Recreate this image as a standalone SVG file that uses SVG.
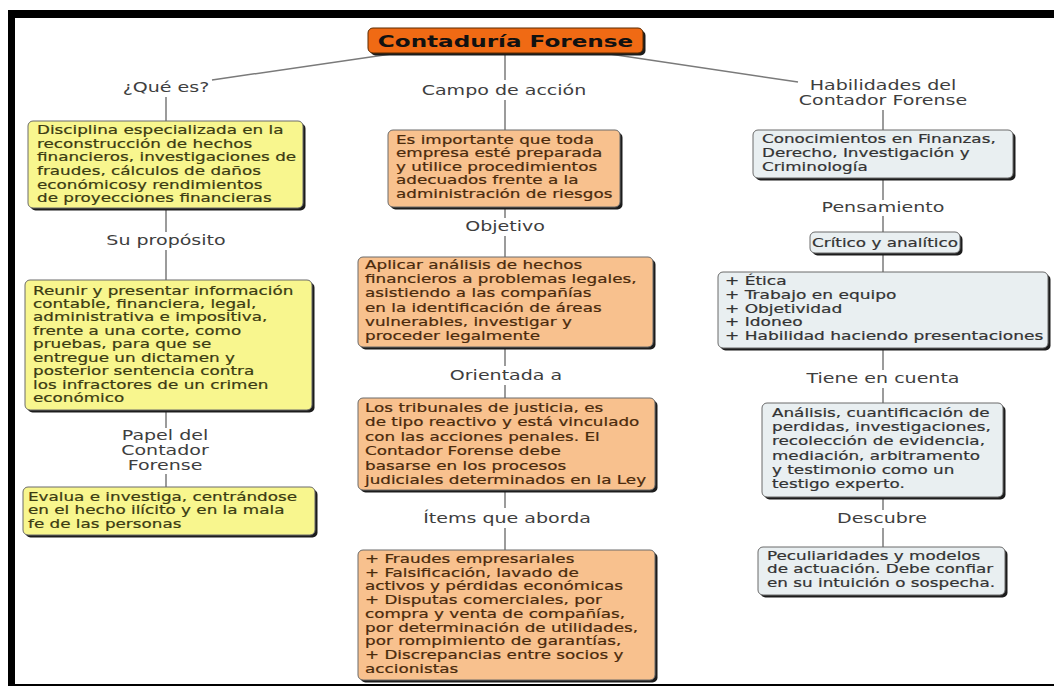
<svg xmlns="http://www.w3.org/2000/svg" width="1054" height="686" viewBox="0 0 1054 686">
  <style>
    .frame { fill: #000; }
    .shadow { fill: #1c1c1c; }
    .box { stroke: #6a6a6a; stroke-width: 1; }
    .yellow { fill: #F8F68E; }
    .peach { fill: #F8C18E; }
    .grey { fill: #E9EFF1; }
    .root { fill: #F06A14; stroke: #5a2a00; stroke-width: 1; }
    .body { font-family: "DejaVu Sans", Verdana, sans-serif; font-size: 12px; stroke-width: 0.2px; }
    .ty { fill: #3b3b12; stroke: #3b3b12; }
    .tp { fill: #4a2a0c; stroke: #4a2a0c; }
    .tg { fill: #333; stroke: #333; }
    .label { font-family: "DejaVu Sans", Verdana, sans-serif; font-size: 13.6px; fill: #3e3e3e; text-anchor: middle; }
    .title { font-family: "DejaVu Sans", Verdana, sans-serif; font-size: 16.5px; font-weight: bold; fill: #111; text-anchor: middle; }
    .link { stroke: #7a7a7a; stroke-width: 1.5; fill: none; }
  </style>

  <rect width="1054" height="686" fill="#fff"/>

  <!-- frame -->
  <rect class="frame" x="8" y="10" width="1046" height="8"/>
  <rect class="frame" x="8" y="10" width="7" height="676"/>
  <rect class="frame" x="8" y="684" width="1046" height="2"/>

  <!-- connectors -->
  <g id="connectors" class="link">
    <line x1="398" y1="53" x2="212" y2="80"/>
    <line x1="505" y1="53" x2="505" y2="80"/>
    <line x1="603" y1="53" x2="798" y2="82"/>

    <line x1="166" y1="97" x2="166" y2="121"/>
    <line x1="166" y1="208" x2="166" y2="232"/>
    <line x1="166" y1="250" x2="166" y2="280"/>
    <line x1="166" y1="410" x2="166" y2="428"/>
    <line x1="166" y1="474" x2="166" y2="487"/>

    <line x1="505" y1="100" x2="505" y2="130"/>
    <line x1="505" y1="207" x2="505" y2="218"/>
    <line x1="505" y1="236" x2="505" y2="257"/>
    <line x1="505" y1="347" x2="505" y2="366"/>
    <line x1="505" y1="385" x2="505" y2="398"/>
    <line x1="505" y1="490" x2="505" y2="508"/>
    <line x1="505" y1="528" x2="505" y2="550"/>

    <line x1="883" y1="110" x2="883" y2="130"/>
    <line x1="883" y1="178" x2="883" y2="200"/>
    <line x1="883" y1="216" x2="883" y2="232"/>
    <line x1="883" y1="253" x2="883" y2="272"/>
    <line x1="883" y1="348" x2="883" y2="370"/>
    <line x1="883" y1="388" x2="883" y2="403"/>
    <line x1="883" y1="497" x2="883" y2="510"/>
    <line x1="883" y1="528" x2="883" y2="547"/>
  </g>

  <!-- root concept -->
  <g id="contaduria-forense">
    <rect class="shadow" x="370.5" y="30.5" width="275" height="25" rx="5"/>
    <rect class="root" x="368" y="28" width="275" height="25" rx="5"/>
    <text class="title" transform="translate(505.5 46.5) scale(1.4 1)">Contaduría Forense</text>
  </g>

  <!-- linking phrases -->
  <g id="que-es"><text class="label" transform="translate(166 92) scale(1.4 1)">¿Qué es?</text></g>
  <g id="su-proposito"><text class="label" transform="translate(166 245) scale(1.4 1)">Su propósito</text></g>
  <g id="papel-del-contador"><text class="label" transform="translate(165 440) scale(1.4 1)"><tspan x="0">Papel del</tspan><tspan x="0" dy="15">Contador</tspan><tspan x="0" dy="15">Forense</tspan></text></g>
  <g id="campo-de-accion"><text class="label" transform="translate(504 95) scale(1.4 1)">Campo de acción</text></g>
  <g id="objetivo"><text class="label" transform="translate(505 231) scale(1.4 1)">Objetivo</text></g>
  <g id="orientada-a"><text class="label" transform="translate(506 380) scale(1.4 1)">Orientada a</text></g>
  <g id="items-que-aborda"><text class="label" transform="translate(507 523) scale(1.4 1)">Ítems que aborda</text></g>
  <g id="habilidades"><text class="label" transform="translate(883 90) scale(1.4 1)"><tspan x="0">Habilidades del</tspan><tspan x="0" dy="15">Contador Forense</tspan></text></g>
  <g id="pensamiento"><text class="label" transform="translate(883 212) scale(1.4 1)">Pensamiento</text></g>
  <g id="tiene-en-cuenta"><text class="label" transform="translate(883 383) scale(1.4 1)">Tiene en cuenta</text></g>
  <g id="descubre"><text class="label" transform="translate(882 523) scale(1.4 1)">Descubre</text></g>

  <!-- left column -->
  <g id="disciplina">
    <rect class="shadow" x="30.5" y="123.5" width="275" height="87" rx="5"/>
    <rect class="box yellow" x="28" y="121" width="275" height="87" rx="5"/>
    <text class="body ty" transform="translate(37 134) scale(1.4 1)">
      <tspan x="0">Disciplina especializada en la</tspan>
      <tspan x="0" dy="13.7">reconstrucción de hechos</tspan>
      <tspan x="0" dy="13.7">financieros, investigaciones de</tspan>
      <tspan x="0" dy="13.7">fraudes, cálculos de daños</tspan>
      <tspan x="0" dy="13.7">económicosy rendimientos</tspan>
      <tspan x="0" dy="13.7">de proyecciones financieras</tspan>
    </text>
  </g>

  <g id="reunir">
    <rect class="shadow" x="27.5" y="282.5" width="287" height="130" rx="5"/>
    <rect class="box yellow" x="25" y="280" width="287" height="130" rx="5"/>
    <text class="body ty" transform="translate(33 294.5) scale(1.4 1)">
      <tspan x="0">Reunir y presentar información</tspan>
      <tspan x="0" dy="13.5">contable, financiera, legal,</tspan>
      <tspan x="0" dy="13.5">administrativa e impositiva,</tspan>
      <tspan x="0" dy="13.5">frente a una corte, como</tspan>
      <tspan x="0" dy="13.5">pruebas, para que se</tspan>
      <tspan x="0" dy="13.5">entregue un dictamen y</tspan>
      <tspan x="0" dy="13.5">posterior sentencia contra</tspan>
      <tspan x="0" dy="13.5">los infractores de un crimen</tspan>
      <tspan x="0" dy="13.5">económico</tspan>
    </text>
  </g>

  <g id="evalua">
    <rect class="shadow" x="25.5" y="489.5" width="292" height="48" rx="5"/>
    <rect class="box yellow" x="23" y="487" width="292" height="48" rx="5"/>
    <text class="body ty" transform="translate(28 501) scale(1.4 1)">
      <tspan x="0">Evalua e investiga, centrándose</tspan>
      <tspan x="0" dy="13.3">en el hecho ilícito y en la mala</tspan>
      <tspan x="0" dy="13.3">fe de las personas</tspan>
    </text>
  </g>

  <!-- middle column -->
  <g id="es-importante">
    <rect class="shadow" x="390.5" y="132.5" width="232" height="77" rx="5"/>
    <rect class="box peach" x="388" y="130" width="232" height="77" rx="5"/>
    <text class="body tp" transform="translate(396 144) scale(1.4 1)">
      <tspan x="0">Es importante que toda</tspan>
      <tspan x="0" dy="13.5">empresa esté preparada</tspan>
      <tspan x="0" dy="13.5">y utilice procedimientos</tspan>
      <tspan x="0" dy="13.5">adecuados frente a la</tspan>
      <tspan x="0" dy="13.5">administración de riesgos</tspan>
    </text>
  </g>

  <g id="aplicar-analisis">
    <rect class="shadow" x="360.5" y="259.5" width="295" height="90" rx="5"/>
    <rect class="box peach" x="358" y="257" width="295" height="90" rx="5"/>
    <text class="body tp" transform="translate(365 269) scale(1.4 1)">
      <tspan x="0">Aplicar análisis de hechos</tspan>
      <tspan x="0" dy="14.2">financieros a problemas legales,</tspan>
      <tspan x="0" dy="14.2">asistiendo a las compañías</tspan>
      <tspan x="0" dy="14.2">en la identificación de áreas</tspan>
      <tspan x="0" dy="14.2">vulnerables, investigar y</tspan>
      <tspan x="0" dy="14.2">proceder legalmente</tspan>
    </text>
  </g>

  <g id="tribunales">
    <rect class="shadow" x="360.5" y="400.5" width="297" height="92" rx="5"/>
    <rect class="box peach" x="358" y="398" width="297" height="92" rx="5"/>
    <text class="body tp" transform="translate(365 412) scale(1.4 1)">
      <tspan x="0">Los tribunales de justicia, es</tspan>
      <tspan x="0" dy="14.4">de tipo reactivo y está vinculado</tspan>
      <tspan x="0" dy="14.4">con las acciones penales. El</tspan>
      <tspan x="0" dy="14.4">Contador Forense debe</tspan>
      <tspan x="0" dy="14.4">basarse en los procesos</tspan>
      <tspan x="0" dy="14.4">judiciales determinados en la Ley</tspan>
    </text>
  </g>

  <g id="items">
    <rect class="shadow" x="360.5" y="552.5" width="297" height="130" rx="5"/>
    <rect class="box peach" x="358" y="550" width="297" height="130" rx="5"/>
    <text class="body tp" transform="translate(365 563) scale(1.4 1)">
      <tspan x="0">+ Fraudes empresariales</tspan>
      <tspan x="0" dy="13.75">+ Falsificación, lavado de</tspan>
      <tspan x="0" dy="13.75">activos y pérdidas económicas</tspan>
      <tspan x="0" dy="13.75">+ Disputas comerciales, por</tspan>
      <tspan x="0" dy="13.75">compra y venta de compañías,</tspan>
      <tspan x="0" dy="13.75">por determinación de utilidades,</tspan>
      <tspan x="0" dy="13.75">por rompimiento de garantías,</tspan>
      <tspan x="0" dy="13.75">+ Discrepancias entre socios y</tspan>
      <tspan x="0" dy="13.75">accionistas</tspan>
    </text>
  </g>

  <!-- right column -->
  <g id="conocimientos">
    <rect class="shadow" x="755.5" y="132.5" width="260" height="48" rx="5"/>
    <rect class="box grey" x="753" y="130" width="260" height="48" rx="5"/>
    <text class="body tg" transform="translate(762 143) scale(1.4 1)">
      <tspan x="0">Conocimientos en Finanzas,</tspan>
      <tspan x="0" dy="14">Derecho, Investigación y</tspan>
      <tspan x="0" dy="14">Criminología</tspan>
    </text>
  </g>

  <g id="critico">
    <rect class="shadow" x="812.5" y="234.5" width="150" height="21" rx="5"/>
    <rect class="box grey" x="810" y="232" width="150" height="21" rx="5"/>
    <text class="body tg" text-anchor="middle" transform="translate(885 247) scale(1.4 1)">Crítico y analítico</text>
  </g>

  <g id="cualidades">
    <rect class="shadow" x="720.5" y="274.5" width="330" height="76" rx="5"/>
    <rect class="box grey" x="718" y="272" width="330" height="76" rx="5"/>
    <text class="body tg" transform="translate(725 285) scale(1.42 1)">
      <tspan x="0">+ Ética</tspan>
      <tspan x="0" dy="13.8">+ Trabajo en equipo</tspan>
      <tspan x="0" dy="13.8">+ Objetividad</tspan>
      <tspan x="0" dy="13.8">+ Idoneo</tspan>
      <tspan x="0" dy="13.8">+ Habilidad haciendo presentaciones</tspan>
    </text>
  </g>

  <g id="analisis">
    <rect class="shadow" x="764.5" y="405.5" width="241" height="94" rx="5"/>
    <rect class="box grey" x="762" y="403" width="241" height="94" rx="5"/>
    <text class="body tg" transform="translate(772 417) scale(1.4 1)">
      <tspan x="0">Análisis, cuantificación de</tspan>
      <tspan x="0" dy="14.2">perdidas, investigaciones,</tspan>
      <tspan x="0" dy="14.2">recolección de evidencia,</tspan>
      <tspan x="0" dy="14.2">mediación, arbitramento</tspan>
      <tspan x="0" dy="14.2">y testimonio como un</tspan>
      <tspan x="0" dy="14.2">testigo experto.</tspan>
    </text>
  </g>

  <g id="peculiaridades">
    <rect class="shadow" x="760.5" y="549.5" width="247" height="48" rx="5"/>
    <rect class="box grey" x="758" y="547" width="247" height="48" rx="5"/>
    <text class="body tg" transform="translate(767 560) scale(1.4 1)">
      <tspan x="0">Peculiaridades y modelos</tspan>
      <tspan x="0" dy="13.5">de actuación. Debe confiar</tspan>
      <tspan x="0" dy="13.5">en su intuición o sospecha.</tspan>
    </text>
  </g>
</svg>
